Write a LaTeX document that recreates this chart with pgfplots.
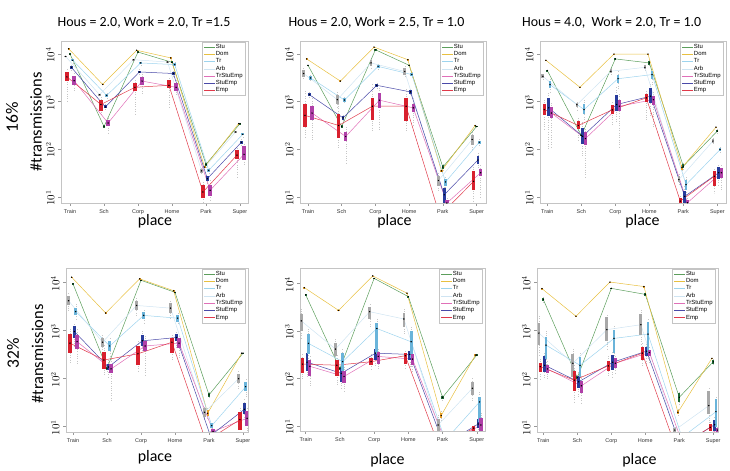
\documentclass[border=0pt]{standalone}
\usepackage{pgfplots}
\pgfplotsset{compat=1.18}
\usepackage{pgfplotstable}
\usepackage{fontspec}
\setmainfont{Carlito}
\newfontfamily\arialf{Liberation Sans}

\definecolor{cStu}{HTML}{5C9E5C}
\definecolor{cDom}{HTML}{E8C040}
\definecolor{cTr}{HTML}{9ED4EE}
\definecolor{cArb}{HTML}{CFE4F2}
\definecolor{cP}{HTML}{E070B8}
\definecolor{cB}{HTML}{4A4AA8}
\definecolor{cE}{HTML}{E03A4A}
\definecolor{bStu}{HTML}{1F6B35}
\definecolor{bDom}{HTML}{E8A028}
\definecolor{bTr}{HTML}{6AB4DA}
\definecolor{bArb}{HTML}{A8A8A8}
\definecolor{bP}{HTML}{B040A8}
\definecolor{bB}{HTML}{283C9C}
\definecolor{bE}{HTML}{D8202E}
\definecolor{frame}{HTML}{C4C4C4}

% columns: x, then for each series: median, box low, box high, whisker low, whisker high
% S=Stu D=Dom T=Tr A=Arb P=TrStuEmp B=StuEmp E=Emp
\pgfplotstableread{
x Sm Sl Sh Swl Swh Dm Dl Dh Dwl Dwh Tm Tl Th Twl Twh Am Al Ah Awl Awh Pm Pl Ph Pwl Pwh Bm Bl Bh Bwl Bwh Em El Eh Ewl Ewh
0 10000 9600 10400 9000 11000 12900 12600 13200 12300 13500 7400 7000 7800 6500 8300 8900 8600 9200 8200 9600 2750 2200 3400 1600 4200 5250 4900 5600 4500 6000 3300 2700 4100 940 5000
1 300 285 315 270 330 2300 2250 2350 2200 2400 1350 1250 1450 1100 1600 1400 1350 1450 1300 1500 355 300 420 200 500 770 720 830 650 900 870 650 1070 500 1300
2 11000 10500 11500 10000 12000 12000 11700 12300 11400 12600 6500 6100 6900 5600 7300 7600 7300 7900 7000 8200 2700 2200 3300 1500 4000 4200 3900 4500 3600 4800 2000 1650 2450 510 3000
3 6700 6400 7000 6000 7300 8300 8100 8500 7900 8700 6000 5600 6400 5200 6800 6800 6600 7000 6300 7200 2000 1650 2500 1300 2900 3900 3600 4200 3300 4500 2200 1900 2800 740 3300
4 48 45 51 42 54 42 40 44 38 46 36 33 39 30 42 35 32 38 29 41 13.7 10.5 18 8 22 24 21 27 18 30 12.6 9.5 18 7.6 22
5 345 330 360 320 370 345 335 355 325 365 205 195 215 180 230 230 222 238 215 245 78 58 115 45 135 140 130 150 120 160 75 62 95 25 110
}\tabA
\pgfplotstableread{
x Sm Sl Sh Swl Swh Dm Dl Dh Dwl Dwh Tm Tl Th Twl Twh Am Al Ah Awl Awh Pm Pl Ph Pwl Pwh Bm Bl Bh Bwl Bwh Em El Eh Ewl Ewh
0 5800 5600 6000 5400 6200 7900 7700 8100 7500 8300 3140 2900 3400 2600 3700 3900 3240 4700 2800 5400 575 415 790 150 1300 1400 1300 1520 1150 1700 515 290 890 175 1780
1 300 285 315 270 330 2700 2620 2780 2550 2850 1080 1000 1170 900 1250 1100 900 1350 700 1600 185 150 230 50 300 455 420 490 380 530 315 175 550 100 900
2 12300 12000 12600 11600 13000 14000 13700 14300 13400 14600 5500 5100 5900 4600 6400 6500 5500 7600 4800 8500 1070 740 1520 250 2100 2200 2050 2360 1900 2550 800 415 1200 230 2300
3 5800 5600 6000 5400 6200 7600 7400 7800 7200 8000 3700 3400 4000 3000 4400 4300 3700 5000 3200 5700 740 600 900 300 1200 1600 1450 1760 1300 1950 800 390 1200 250 1900
4 42 39 46 37 48 35 33 37 32 38 20.5 17 24 14 28 22 17 27 13 32 7.4 6.2 8.5 5 10 11 6.9 15.5 5 19 4 3 5 2.5 6
5 300 290 310 280 320 315 305 325 295 335 140 130 150 118 162 160 125 200 100 240 32 27 38 10 48 59 48 72 38 85 21 14 35 6 48
}\tabB
\pgfplotstableread{
x Sm Sl Sh Swl Swh Dm Dl Dh Dwl Dwh Tm Tl Th Twl Twh Am Al Ah Awl Awh Pm Pl Ph Pwl Pwh Bm Bl Bh Bwl Bwh Em El Eh Ewl Ewh
0 4500 4300 4700 4100 4900 7400 7250 7550 7100 7700 2270 1900 2700 1500 3200 3400 3100 3800 2700 4200 575 450 760 107 1000 740 490 1200 100 1600 680 535 870 250 1200
1 195 185 205 175 215 2000 1960 2040 1920 2080 680 560 880 420 1100 860 780 950 680 1050 167 120 225 25 300 187 130 280 70 400 315 260 400 150 500
2 7900 7600 8200 7300 8500 10000 9800 10200 9600 10400 3030 2500 3600 1900 4300 4350 4000 4800 3500 5300 800 620 1100 110 1500 870 630 1400 350 2000 670 540 830 300 1000
3 6500 6000 7000 5600 7400 10000 9800 10200 9600 10400 3700 3000 4400 2300 5200 5250 4800 5800 4300 6400 1100 850 1300 300 1600 1300 920 1900 500 2500 1200 1000 1450 400 1700
4 44 40 48 37 51 41 36 46 33 50 18 14 23 11 28 23 20 27 17 31 7.5 6.5 8.5 5.5 9.5 10.2 7.5 13.5 6 17 8.1 7 9.5 6 10.5
5 240 225 255 210 270 290 282 298 275 305 98 90 107 80 118 148 135 162 120 178 32 25 40 14 50 32 24 42 16 50 27 17 35 12 42
}\tabC
\pgfplotstableread{
x Sm Sl Sh Swl Swh Dm Dl Dh Dwl Dwh Tm Tl Th Twl Twh Am Al Ah Awl Awh Pm Pl Ph Pwl Pwh Bm Bl Bh Bwl Bwh Em El Eh Ewl Ewh
0 9400 9100 9700 8800 10000 13000 12800 13200 12600 13400 2500 2100 3000 1700 3600 4200 3400 5200 2600 6200 590 420 800 200 1100 960 720 1230 450 1500 550 340 850 200 1100
1 165 155 175 145 185 2330 2250 2410 2150 2500 480 380 600 300 750 575 460 720 350 900 160 130 200 35 260 175 150 205 110 250 245 160 360 120 500
2 11200 10900 11500 10600 11800 12000 11700 12300 11400 12600 2080 1750 2450 1400 2900 3350 2700 4200 2100 5000 480 380 620 120 800 615 470 800 350 1000 330 190 470 140 600
3 6300 6100 6500 5900 6700 6800 6600 7000 6400 7200 1820 1550 2150 1300 2500 2950 2350 3700 1800 4500 550 430 690 250 850 720 610 860 450 1000 575 340 720 250 900
4 46 42 50 40 52 19 17 22 15 24 10.5 9.3 11.8 8.2 13 20 16 24 13 28 8 7 9 6 10 6.5 5.5 7.5 5 8.5 5 4 6 3.5 7
5 340 330 350 320 360 340 330 350 320 360 68 55 85 40 100 100 80 125 62 150 15 10.5 21 8 26 23 18 31 13 38 14 8.5 20 6 25
}\tabD
\pgfplotstableread{
x Sm Sl Sh Swl Swh Dm Dl Dh Dwl Dwh Tm Tl Th Twl Twh Am Al Ah Awl Awh Pm Pl Ph Pwl Pwh Bm Bl Bh Bwl Bwh Em El Eh Ewl Ewh
0 5700 5500 5900 5300 6100 8100 7900 8300 7700 8500 545 330 850 200 1100 1620 1000 2240 650 2900 180 110 250 70 320 220 140 350 100 450 200 130 270 90 350
1 160 150 170 140 180 2700 2620 2780 2550 2850 225 140 340 90 420 415 290 560 200 700 110 80 145 50 180 128 85 165 60 210 190 110 250 70 320
2 12700 12400 13000 12100 13300 14300 14000 14600 13700 14900 1120 330 1450 200 1900 2530 1800 3150 1200 3900 290 200 360 150 420 340 250 420 180 520 225 190 270 150 320
3 5250 5050 5450 4900 5600 6200 6000 6400 5800 6600 590 270 1000 180 1300 1780 1200 2350 800 3000 255 190 330 130 400 320 240 380 170 460 300 200 340 150 400
4 40 37 43 35 45 16.6 14.5 19 13 21 5 4 6 3.5 7 10.5 7.5 14 6 17 4 3.5 4.5 3 5 4 3.5 4.5 3 5 3.5 3 4 2.5 4.5
5 310 300 320 290 330 310 300 320 290 330 32 12 40 8 55 62 45 85 33 100 10.5 8 15 6 19 11 9 14 7 18 9 8 10 6.5 11
}\tabE
\pgfplotstableread{
x Sm Sl Sh Swl Swh Dm Dl Dh Dwl Dwh Tm Tl Th Twl Twh Am Al Ah Awl Awh Pm Pl Ph Pwl Pwh Bm Bl Bh Bwl Bwh Em El Eh Ewl Ewh
0 4450 4100 4800 3800 5100 7500 7350 7650 7200 7800 500 260 750 150 1000 890 500 1440 300 2000 160 130 190 95 230 190 140 290 100 350 178 140 210 100 260
1 105 98 112 90 120 2000 1950 2050 1900 2100 190 110 280 70 350 210 110 330 70 420 71 50 90 30 120 86 65 115 40 150 93 55 145 30 200
2 7600 7300 7900 7000 8200 10300 10100 10500 9900 10700 690 340 1050 200 1300 1050 600 1900 400 2300 210 165 265 120 320 220 150 310 110 380 185 145 235 110 300
3 5700 5400 6000 5100 6300 8300 8100 8500 7900 8700 850 350 1500 250 1800 1330 800 2200 500 2800 350 290 400 220 460 375 290 460 200 550 340 250 450 180 550
4 41 33 50 28 55 20 18 22 16 24 6 5 7 4.5 8 8.5 7.5 9.5 7 10.5 4 3.5 4.5 3 5 4 3.5 4.5 3 5 3.5 3 4 2.5 4.5
5 225 205 245 190 265 265 255 275 245 285 20.5 10 37 8 45 27.5 18 55 12 65 8.5 7.8 9.5 7 10.5 11 8 14 6 17 9.7 8.2 11.5 7 13
}\tabF

% #1 table, #2 series prefix, #3 x offset
\newcommand\whisk[3]{\addplot[forget plot, draw=none, mark=none,
  error bars/.cd, y dir=both, y explicit, error mark=none,
  error bar style={draw=gray!45, dotted, line width=0.4pt}]
  table[x expr=\thisrow{x}+(#3), y=#2m,
    y error plus expr=\thisrow{#2wh}-\thisrow{#2m},
    y error minus expr=\thisrow{#2m}-\thisrow{#2wl}] {#1};}
\newcommand\lin[4]{\addplot[color=#4, line width=0.5pt, mark=none]
  table[x expr=\thisrow{x}+(#3), y=#2m] {#1};}
\newcommand\bx[5]{\addplot[forget plot, only marks, mark=*, mark size=0.45pt,
  mark options={fill=black, draw=black},
  error bars/.cd, y dir=both, y explicit, error mark=none,
  error bar style={draw=#4, solid, line width=#5}]
  table[x expr=\thisrow{x}+(#3), y=#2m,
    y error plus expr=\thisrow{#2h}-\thisrow{#2m},
    y error minus expr=\thisrow{#2m}-\thisrow{#2l}] {#1};}
\newcommand\drawpanel[1]{%
  \whisk{#1}{A}{-0.13}\whisk{#1}{E}{-0.09}\whisk{#1}{D}{-0.04}\whisk{#1}{S}{0}%
  \whisk{#1}{B}{0.04}\whisk{#1}{T}{0.08}\whisk{#1}{P}{0.12}%
  \lin{#1}{S}{0}{cStu}\lin{#1}{D}{-0.04}{cDom}\lin{#1}{T}{0.08}{cTr}%
  \lin{#1}{A}{-0.13}{cArb}\lin{#1}{P}{0.12}{cP}\lin{#1}{B}{0.04}{cB}\lin{#1}{E}{-0.09}{cE}%
  \bx{#1}{A}{-0.13}{bArb}{2.8bp}\bx{#1}{E}{-0.09}{bE}{3.3bp}\bx{#1}{D}{-0.04}{bDom}{2.2bp}%
  \bx{#1}{S}{0}{bStu}{2.2bp}\bx{#1}{B}{0.04}{bB}{2.8bp}\bx{#1}{T}{0.08}{bTr}{2.8bp}%
  \bx{#1}{P}{0.12}{bP}{3.3bp}%
  \legend{Stu,Dom,Tr,Arb,TrStuEmp,StuEmp,Emp}}

% #1 x, #2 y, #3 width, #4 height, #5 xmin, #6 xmax, #7 ymin, #8 ymax, #9 table
\newcommand\panel[9]{%
\begin{axis}[scale only axis, anchor=south west,
  at={(#1,#2)}, width=#3, height=#4,
  xmin=#5, xmax=#6, ymin=#7, ymax=#8,
  ymode=log, log basis y=10, yminorticks=false,
  ytick={10,100,1000,10000},
  xtick={0,1,2,3,4,5},
  xticklabels={Train,Sch,Corp,Home,Park,Super},
  axis line style={draw=frame, line width=0.8pt},
  tick style={draw=gray!80, line width=0.5pt},
  major tick length=3bp, tick align=outside,
  xtick pos=bottom, ytick pos=left,
  xticklabel style={font=\arialf\fontsize{5.5}{6}\selectfont, text=black!80},
  yticklabel style={font=\fontsize{10.5}{11}\selectfont, rotate=90, anchor=south, xshift=-1bp},
  legend style={at={(0.985,0.996)}, anchor=north east, draw=frame, line width=0.6pt,
    font=\arialf\fontsize{6}{6.4}\selectfont, inner sep=1.8bp, row sep=0.6bp,
    nodes={inner sep=0.5bp}},
  legend cell align=left,
  legend image code/.code={\draw[##1, line width=0.6pt] (0bp,0bp) -- (11bp,0bp);},
  ]
\drawpanel{#9}
\end{axis}}

\begin{document}
\begin{tikzpicture}
\useasboundingbox (0,0) rectangle (730bp,471bp);
% titles
\node[font=\fontsize{14}{16}\selectfont] at (144bp,448bp) {Hous = 2.0, Work = 2.0, Tr =1.5};
\node[font=\fontsize{14}{16}\selectfont] at (376.5bp,448bp) {Hous = 2.0, Work = 2.5, Tr = 1.0};
\node[font=\fontsize{14}{16}\selectfont] at (611.7bp,448bp) {Hous = 4.0,\ \ Work = 2.0, Tr = 1.0};
% row labels
\node[rotate=90, font=\fontsize{17.5}{20}\selectfont] at (12bp,354bp) {16\%};
\node[rotate=90, font=\fontsize{16.5}{18}\selectfont] at (36bp,349bp) {\#transmissions};
\node[rotate=90, font=\fontsize{17.5}{20}\selectfont] at (13bp,118bp) {32\%};
\node[rotate=90, font=\fontsize{16.5}{18}\selectfont] at (37.5bp,117bp) {\#transmissions};
% x labels
\node[font=\fontsize{16}{18}\selectfont] at (155bp,249.5bp) {place};
\node[font=\fontsize{16}{18}\selectfont] at (394.5bp,249.5bp) {place};
\node[font=\fontsize{16}{18}\selectfont] at (642.5bp,249.5bp) {place};
\node[font=\fontsize{16}{18}\selectfont] at (155bp,14bp) {place};
\node[font=\fontsize{16}{18}\selectfont] at (387.5bp,10.5bp) {place};
\node[font=\fontsize{16}{18}\selectfont] at (639.5bp,10.5bp) {place};

\panel{61bp}{268bp}{187bp}{162bp}{-0.265}{5.235}{7.4}{18800}{\tabA}
\panel{300bp}{268bp}{186bp}{162bp}{-0.237}{5.28}{7.4}{18800}{\tabB}
\panel{540bp}{268bp}{186bp}{162bp}{-0.215}{5.255}{7.4}{18800}{\tabC}
\panel{66bp}{39bp}{182bp}{164bp}{-0.206}{5.147}{7.76}{20200}{\tabD}
\panel{300bp}{40bp}{185bp}{163bp}{-0.167}{5.24}{7.85}{21000}{\tabE}
\panel{537bp}{39bp}{181bp}{164bp}{-0.186}{5.14}{7.76}{20200}{\tabF}
\end{tikzpicture}
\end{document}
